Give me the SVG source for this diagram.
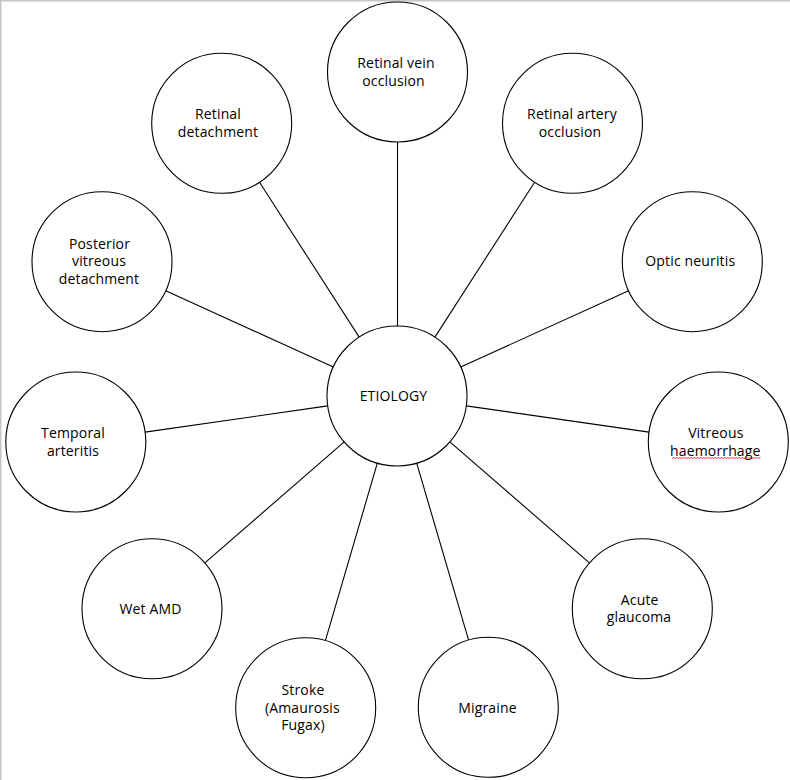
<svg xmlns="http://www.w3.org/2000/svg" width="790" height="780" viewBox="0 0 790 780">
<style>
.n{fill:#fff;stroke:#000;stroke-width:1.1}
.c line{stroke:#000;stroke-width:1.1}
text{font-family:"Open Sans","Liberation Sans",sans-serif;font-size:14px;letter-spacing:0.15px;fill:#000;text-anchor:middle}
</style>
<rect width="790" height="780" fill="#fff"/>
<polyline points="0.75,780 0.75,0.75 790,0.75" fill="none" stroke="#c6c6c6" stroke-width="1.5"/>
<g id="connectors" class="c">
<line x1="397.5" y1="142" x2="397.5" y2="326"/>
<line x1="359.2" y1="337.1" x2="259.5" y2="182.2"/>
<line x1="434.9" y1="337.1" x2="534.6" y2="182.2"/>
<line x1="333.3" y1="367" x2="165.7" y2="290.7"/>
<line x1="460.7" y1="367" x2="628.6" y2="290.7"/>
<line x1="327.7" y1="405.9" x2="145.1" y2="432.1"/>
<line x1="466.3" y1="405.9" x2="649" y2="432.1"/>
<line x1="344.2" y1="441.9" x2="204.9" y2="562.9"/>
<line x1="449.9" y1="441.9" x2="589.4" y2="562.9"/>
<line x1="377.3" y1="463.2" x2="325.4" y2="640.6"/>
<line x1="416.7" y1="463.2" x2="468.6" y2="640.1"/>
</g>
<g id="etiology"><circle class="n" cx="397" cy="396" r="70"/><text x="393.5" y="401">ETIOLOGY</text></g>
<g id="retinal-vein"><circle class="n" cx="397.5" cy="72" r="70"/><text x="396" y="68">Retinal vein</text><text x="393.5" y="85.5">occlusion</text></g>
<g id="retinal-detachment"><circle class="n" cx="221.7" cy="123.3" r="70"/><text x="218" y="119.3">Retinal</text><text x="218" y="136.8">detachment</text></g>
<g id="retinal-artery"><circle class="n" cx="572.5" cy="123.3" r="70"/><text x="572" y="119.3">Retinal artery</text><text x="570" y="136.8">occlusion</text></g>
<g id="posterior-vitreous"><circle class="n" cx="102" cy="261.7" r="70"/><text x="99.5" y="248.7">Posterior</text><text x="99" y="266.3">vitreous</text><text x="99" y="283.9">detachment</text></g>
<g id="optic-neuritis"><circle class="n" cx="692.3" cy="261.7" r="70"/><text x="690.3" y="265.7">Optic neuritis</text></g>
<g id="temporal-arteritis"><circle class="n" cx="75.8" cy="442" r="70"/><text x="73" y="438.3">Temporal</text><text x="73" y="455.8">arteritis</text></g>
<g id="vitreous-haemorrhage"><circle class="n" cx="718.3" cy="442" r="70"/><text x="715.8" y="438.3">Vitreous</text><text x="715.3" y="455.8">haemorrhage</text>
<path d="M672,458.5 l1.5,-1 l1.5,1 l1.5,-1 l1.5,1 l1.5,-1 l1.5,1 l1.5,-1 l1.5,1 l1.5,-1 l1.5,1 l1.5,-1 l1.5,1 l1.5,-1 l1.5,1 l1.5,-1 l1.5,1 l1.5,-1 l1.5,1 l1.5,-1 l1.5,1 l1.5,-1 l1.5,1 l1.5,-1 l1.5,1 l1.5,-1 l1.5,1 l1.5,-1 l1.5,1 l1.5,-1 l1.5,1 l1.5,-1 l1.5,1 l1.5,-1 l1.5,1 l1.5,-1 l1.5,1 l1.5,-1 l1.5,1 l1.5,-1 l1.5,1 l1.5,-1 l1.5,1 l1.5,-1 l1.5,1 l1.5,-1 l1.5,1 l1.5,-1 l1.5,1 l1.5,-1 l1.5,1 l1.5,-1 l1.5,1 l1.5,-1 l1.5,1 l1.5,-1 l1.5,1 l1.5,-1 l1.5,1 l1.5,-1" fill="none" stroke="#e02020" stroke-width="0.9"/></g>
<g id="wet-amd"><circle class="n" cx="152" cy="608.8" r="70"/><text x="150.5" y="614">Wet AMD</text></g>
<g id="acute-glaucoma"><circle class="n" cx="642.3" cy="608.8" r="70"/><text x="639.7" y="604.5">Acute</text><text x="639" y="622.2">glaucoma</text></g>
<g id="stroke"><circle class="n" cx="305.7" cy="707.8" r="70"/><text x="303" y="695">Stroke</text><text x="302.3" y="712.6">(Amaurosis</text><text x="303" y="730.2">Fugax)</text></g>
<g id="migraine"><circle class="n" cx="488.3" cy="707.3" r="70"/><text x="487.5" y="712.7">Migraine</text></g>
</svg>
